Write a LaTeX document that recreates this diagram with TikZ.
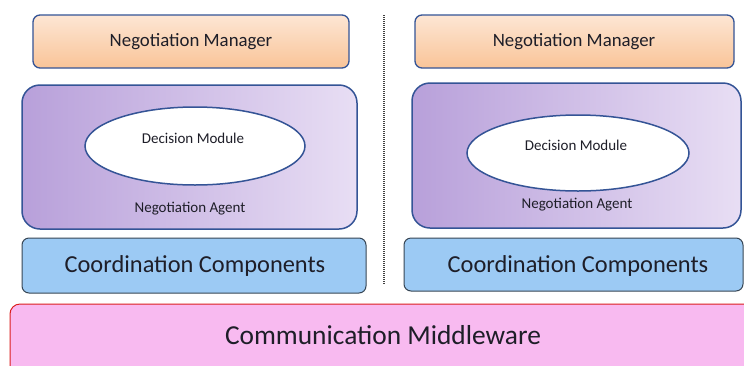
\documentclass[tikz,border=0pt]{standalone}
\usepackage{fontspec}
\setmainfont{Carlito}
\definecolor{bordblue}{RGB}{52,84,150}
\definecolor{nmtop}{RGB}{253,230,212}
\definecolor{nmbot}{RGB}{249,196,152}
\definecolor{naleft}{RGB}{184,160,218}
\definecolor{naright}{RGB}{232,222,244}
\definecolor{ccfill}{RGB}{156,202,244}
\definecolor{ccdraw}{RGB}{55,70,85}
\definecolor{cmfill}{RGB}{248,186,240}
\definecolor{cmdraw}{RGB}{220,30,30}
\definecolor{txt}{RGB}{30,30,40}
\begin{document}
\begin{tikzpicture}[x=1pt,y=-1pt,
  nmbox/.style={draw=bordblue, line width=1.3pt, rounded corners=7pt, top color=nmtop, bottom color=nmbot},
  nabox/.style={draw=bordblue, line width=1.5pt, rounded corners=18pt, left color=naleft, right color=naright},
  ccbox/.style={draw=ccdraw, line width=1pt, rounded corners=7pt, fill=ccfill},
  cmbox/.style={draw=cmdraw, line width=1pt, rounded corners=10pt, fill=cmfill},
  dm/.style={draw=bordblue, line width=1.5pt, fill=white},
  divider/.style={line width=1.3pt, black!75, dash pattern=on 1pt off 1pt},
  lbl/.style={text=txt}]
\useasboundingbox (0,0) rectangle (744,365);
\fill[white] (0,0) rectangle (744,365);
% left column
\draw[nmbox] (33,15) rectangle (349,68);
\node[lbl, font=\fontsize{18.8}{21}\selectfont] (nm1) at (191,42) {Negotiation Manager};
\draw[nabox] (22,85) rectangle (357,229);
\draw[dm] (195,146) ellipse (110 and 39);
\node[lbl, font=\fontsize{15}{17}\selectfont] (dm1) at (193,138) {Decision Module};
\node[lbl, font=\fontsize{15}{17}\selectfont] (na1) at (190,209) {Negotiation Agent};
\draw[ccbox] (22,238) rectangle (366,293);
\node[lbl, font=\fontsize{24.4}{28}\selectfont] (cc1) at (195,266) {Coordination Components};
% divider
\coordinate (dtop) at (384,15);
\coordinate (dbot) at (384,285);
\draw[divider] (dtop) -- (dbot);
% right column
\draw[nmbox] (415,15) rectangle (734,68);
\node[lbl, font=\fontsize{18.8}{21}\selectfont] (nm2) at (574,42) {Negotiation Manager};
\draw[nabox] (412,83) rectangle (741,228);
\draw[dm] (578,153) ellipse (111 and 38);
\node[lbl, font=\fontsize{15}{17}\selectfont] (dm2) at (576,145) {Decision Module};
\node[lbl, font=\fontsize{15}{17}\selectfont] (na2) at (577,205) {Negotiation Agent};
\draw[ccbox] (404,238) rectangle (743,291);
\node[lbl, font=\fontsize{24.4}{28}\selectfont] (cc2) at (578,266) {Coordination Components};
% middleware
\draw[cmbox] (10,304) rectangle (760,375);
\node[lbl, font=\fontsize{27.4}{31}\selectfont] (cm) at (383,335) {Communication Middleware};
\end{tikzpicture}
\end{document}
